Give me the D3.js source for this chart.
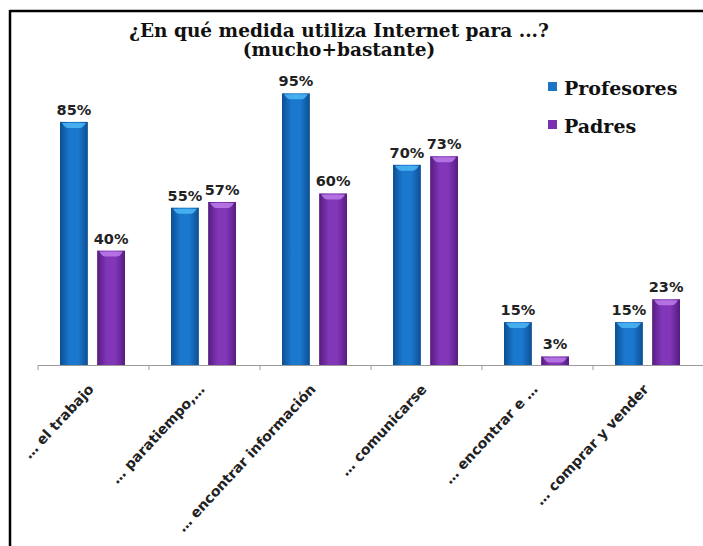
<!DOCTYPE html>
<html>
<head>
<meta charset="utf-8">
<script src="https://cdn.jsdelivr.net/npm/d3@7"></script>
<style>
  body { margin: 0; background: #fff; }
  svg { display: block; }
</style>
</head>
<body>
<svg width="703" height="546"></svg>
<script>
var categories = ["… el trabajo", "… paratiempo,…", "… encontrar información",
                  "… comunicarse", "… encontrar e …", "… comprar y vender"];
var seriesNames = ["Profesores", "Padres"];
var profesores = [85, 55, 95, 70, 15, 15];
var padres = [40, 57, 60, 73, 3, 23];
var titleLines = ["¿En qué medida utiliza Internet para ...?", "(mucho+bastante)"];

var svg = d3.select("svg");
var pxX = +svg.attr("width");
var sansF = "'DejaVu Sans', sans-serif";
var serifF = "'DejaVu Serif', serif";

// frame (only top and left edges show in the crop)
svg.append("line").attr("x1", 10).attr("x2", pxX).attr("y1", 11).attr("y2", 11)
  .attr("stroke", "#000").attr("stroke-width", 2.5);
svg.append("line").attr("x1", 10).attr("x2", 10).attr("y1", 10).attr("y2", 546)
  .attr("stroke", "#000").attr("stroke-width", 2.5);

// gradients
var defs = svg.append("defs");
var grMkr = function (id, edge, mid) {
  var g = defs.append("linearGradient").attr("id", id)
    .attr("x1", "0%").attr("x2", "100%").attr("y1", "0%").attr("y2", "0%");
  g.append("stop").attr("offset", "0%").attr("stop-color", edge);
  g.append("stop").attr("offset", "35%").attr("stop-color", mid);
  g.append("stop").attr("offset", "65%").attr("stop-color", mid);
  g.append("stop").attr("offset", "100%").attr("stop-color", edge);
};
grMkr("gBlue", "#0c4f93", "#1b78cf");
grMkr("gPurple", "#561c80", "#8236b8");

var colors = { Profesores: ["url(#gBlue)", "#49b4f2", "#1b74c6"],
               Padres: ["url(#gPurple)", "#b878e6", "#7a30b0"] };

var scX = d3.scaleBand().domain(categories).range([38, 704]);
var scS = d3.scaleBand().domain(seriesNames).range([22, 87]).paddingInner(0.25);
var scY = d3.scaleLinear().domain([0, 100]).range([365, 79]);

var rows = categories.map((c, i) => ({ cat: c, Profesores: profesores[i], Padres: padres[i] }));

seriesNames.forEach(function (s) {
  var g = svg.append("g").attr("id", s);
  var bw = scS.bandwidth();
  g.selectAll("rect.bar").data(rows).enter().append("rect").attr("class", "bar")
    .attr("x", d => scX(d.cat) + scS(s))
    .attr("y", d => scY(d[s]))
    .attr("width", bw)
    .attr("height", d => scY(0) - scY(d[s]))
    .attr("fill", colors[s][0]);
  // top highlight
  g.selectAll("path.cap").data(rows).enter().append("path").attr("class", "cap")
    .attr("d", function (d) {
      var x0 = scX(d.cat) + scS(s), y0 = scY(d[s]);
      return "M" + (x0 + 2) + "," + (y0 + 1) + "h" + (bw - 4) +
        "q-3,5 -6,5h" + (-(bw - 16)) + "q-3,0 -6,-5z";
    })
    .attr("fill", colors[s][1]).attr("opacity", 0.9);
  g.selectAll("text").data(rows).enter().append("text")
    .attr("x", d => scX(d.cat) + scS(s) + bw / 2)
    .attr("y", d => scY(d[s]) - 7)
    .attr("text-anchor", "middle")
    .attr("font-family", sansF)
    .attr("font-weight", "bold").attr("font-size", 14.5).attr("fill", "#222")
    .text(d => d[s] + "%");
});

// x axis
var ax = svg.append("g").attr("transform", "translate(0,365)")
  .call(d3.axisBottom(scX).tickSize(0).tickFormat(""));
ax.select(".domain").attr("stroke", "#9a9a9a").attr("stroke-width", 1.2);
var edges = categories.map(c => scX(c));
ax.selectAll("line.tk").data(edges).enter().append("line").attr("class", "tk")
  .attr("x1", d => d).attr("x2", d => d).attr("y1", 0).attr("y2", 5)
  .attr("stroke", "#9a9a9a");

svg.append("g").selectAll("text").data(categories).enter().append("text")
  .attr("transform", d => "translate(" + (scX(d) + scX.bandwidth() / 2 + 1) + ",390) rotate(-47)")
  .attr("text-anchor", "end")
  .attr("font-family", sansF)
  .attr("font-weight", "bold").attr("font-size", 14).attr("fill", "#222")
  .text(d => d);

// title
svg.append("g").selectAll("text").data(titleLines).enter().append("text")
  .attr("x", 339).attr("y", (d, i) => 37 + i * 19)
  .attr("text-anchor", "middle")
  .attr("font-family", serifF)
  .attr("font-weight", "bold").attr("font-size", 18.5).attr("fill", "#111")
  .text(d => d);

// legend
var lg = svg.append("g").selectAll("g").data(seriesNames).enter().append("g")
  .attr("transform", (d, i) => "translate(548," + (95 + i * 38) + ")");
lg.append("rect").attr("x", 0).attr("y", -13).attr("width", 9).attr("height", 9)
  .attr("fill", d => colors[d][2]);
lg.append("text").attr("x", 16).attr("y", 0)
  .attr("font-family", serifF)
  .attr("font-weight", "bold").attr("font-size", 19).attr("fill", "#111")
  .text(d => d);
</script>
</body>
</html>
